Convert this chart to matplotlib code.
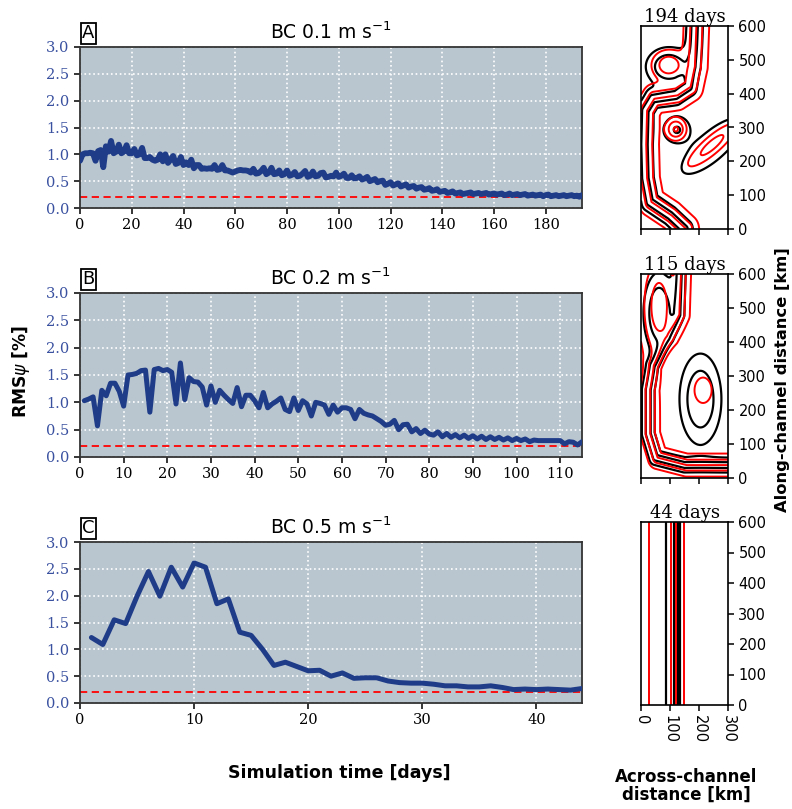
import numpy as np
import matplotlib
matplotlib.use("Agg")
import matplotlib.pyplot as plt

# ---------------- data: RMS time series ----------------
days_a = list(range(0, 195))
rms_a = [0.88, 1.0, 1.02, 1.02, 1.03, 1.02, 0.88, 1.06, 1.08, 0.76,
         1.15, 1.05, 1.25, 1.02, 1.05, 1.18, 1.02, 1.05, 1.17, 1.02,
         1.02, 1.1, 0.98, 1.0, 1.12, 0.93, 0.93, 0.95, 0.9, 0.88,
         0.9, 1.0, 0.87, 1.0, 0.84, 0.9, 0.97, 0.82, 0.84, 0.95,
         0.8, 0.85, 0.8, 0.9, 0.74, 0.8, 0.8, 0.73, 0.74, 0.73,
         0.74, 0.73, 0.8, 0.71, 0.72, 0.8, 0.7, 0.7, 0.68, 0.66,
         0.68, 0.7, 0.71, 0.7, 0.7, 0.69, 0.66, 0.73, 0.64, 0.65,
         0.69, 0.75, 0.63, 0.66, 0.75, 0.63, 0.64, 0.7, 0.61, 0.63,
         0.7, 0.6, 0.62, 0.67, 0.59, 0.6, 0.64, 0.69, 0.58, 0.6,
         0.68, 0.59, 0.6, 0.65, 0.66, 0.57, 0.58, 0.6, 0.59, 0.66,
         0.58, 0.6, 0.64, 0.56, 0.56, 0.61, 0.55, 0.56, 0.59, 0.53,
         0.55, 0.58, 0.5, 0.52, 0.54, 0.48, 0.5, 0.51, 0.43, 0.45,
         0.48, 0.42, 0.44, 0.46, 0.4, 0.42, 0.44, 0.38, 0.4, 0.41,
         0.36, 0.38, 0.39, 0.34, 0.35, 0.37, 0.32, 0.33, 0.35, 0.3,
         0.31, 0.32, 0.28, 0.29, 0.31, 0.27, 0.28, 0.29, 0.26, 0.27,
         0.28, 0.29, 0.26, 0.27, 0.28, 0.26, 0.27, 0.28, 0.25, 0.26,
         0.27, 0.25, 0.26, 0.27, 0.24, 0.25, 0.27, 0.24, 0.25, 0.26,
         0.24, 0.25, 0.26, 0.23, 0.24, 0.25, 0.23, 0.24, 0.25, 0.22,
         0.24, 0.25, 0.22, 0.23, 0.24, 0.22, 0.23, 0.24, 0.22, 0.23,
         0.24, 0.22, 0.23, 0.21, 0.24]

days_b = list(range(1, 116))
rms_b = [1.03, 1.06, 1.1, 0.57, 1.22, 1.12, 1.35, 1.35, 1.2, 0.93,
         1.5, 1.51, 1.53, 1.58, 1.59, 0.82, 1.6, 1.62, 1.58, 1.6,
         1.55, 0.97, 1.72, 1.05, 1.45, 1.38, 1.37, 1.28, 0.95, 1.3,
         1.0, 1.22, 1.13, 1.05, 0.98, 1.27, 0.92, 1.13, 1.13, 1.03,
         0.9, 1.18, 0.9, 0.97, 1.02, 1.08, 0.87, 0.83, 1.08, 0.85,
         1.03, 0.97, 0.75, 1.0, 0.98, 0.95, 0.78, 0.95, 0.82, 0.9,
         0.9, 0.87, 0.7, 0.87, 0.8, 0.77, 0.75, 0.7, 0.65, 0.58,
         0.6, 0.67, 0.5, 0.59, 0.6, 0.46, 0.52, 0.43, 0.49, 0.42,
         0.4, 0.46, 0.37, 0.43, 0.36, 0.41, 0.35, 0.4, 0.34, 0.39,
         0.33, 0.38, 0.32, 0.37, 0.32, 0.36, 0.31, 0.35, 0.3, 0.34,
         0.3, 0.33, 0.28, 0.31, 0.3, 0.3, 0.3, 0.3, 0.3, 0.3,
         0.24, 0.28, 0.27, 0.22, 0.28]

days_c = list(range(1, 45))
rms_c = [1.22, 1.09, 1.55, 1.48, 1.99, 2.45, 1.99, 2.53, 2.16, 2.61,
         2.53, 1.85, 1.94, 1.32, 1.26, 1.0, 0.70, 0.76, 0.68, 0.6,
         0.61, 0.5, 0.56, 0.46, 0.47, 0.47, 0.41, 0.38, 0.37, 0.37,
         0.35, 0.32, 0.32, 0.3, 0.3, 0.32, 0.29, 0.25, 0.26, 0.25,
         0.26, 0.25, 0.24, 0.27]

threshold = 0.2
titles = ["BC 0.1 m s$^{-1}$", "BC 0.2 m s$^{-1}$", "BC 0.5 m s$^{-1}$"]
panel_letters = ["A", "B", "C"]
xmax = [194, 115, 44]
xstep = [20, 10, 10]
snap_titles = ["194 days", "115 days", "44 days"]

# ---------------- data: streamfunction snapshots (features) ----------------
# jet axis control points (km): across, along
jet1_x = [185, 185, 180, 165, 120, 40, 15, 12, 15, 30, 100, 150, 170]
jet1_y = [700, 600, 480, 420, 395, 385, 350, 250, 150, 80, 40, 0, -100]
jet2_x = [132, 132, 128, 95, 40, 25, 25, 50, 150, 300, 400]
jet2_y = [700, 600, 480, 410, 330, 260, 130, 60, 38, 38, 38]
# eddies: centre x, centre y, amplitude, semi-axis a, semi-axis b, angle (deg)
ed1_cx = [95, 124, 245]
ed1_cy = [480, 293, 245]
ed1_amp = [0.55, -0.32, -0.3]
ed1_sa = [60, 42, 120]
ed1_sb = [44, 36, 42]
ed1_ang = [0, 0, 36]
ed2_cx = [62, 205]
ed2_cy = [485, 232]
ed2_amp = [0.6, -0.6]
ed2_sa = [40, 54]
ed2_sb = [89, 100]
ed2_ang = [0, 0]
# red (second field) eddies
red1_cx = [95, 120, 245]
red1_cy = [485, 295, 248]
red1_amp = [0.35, -0.55, -0.3]
red1_sa = [42, 24, 75]
red1_sb = [32, 22, 20]
red1_ang = [0, 0, 36]
red2_cx = [62, 214]
red2_cy = [505, 258]
red2_amp = [0.7, -0.18]
red2_sa = [45, 26]
red2_sb = [118, 33]
red2_ang = [0, 0]
# 44-day snapshot: straight contours (km)
c3_black = [87, 113, 127, 136]
c3_red = [29, 105, 120, 148]

W, H = 792, 809
fig = plt.figure(figsize=(W / 100, H / 100), dpi=100)


def add_ax(l, t, r, b):
    return fig.add_axes([l / W, 1 - b / H, (r - l) / W, (b - t) / H])


blue = "#1f3c88"
tick_blue = "#3a51a0"
bg = "#b9c6d0"

left_boxes = [(80, 47, 582, 208), (80, 293, 582, 457), (80, 542, 582, 703)]
series = [(days_a, rms_a), (days_b, rms_b), (days_c, rms_c)]
lws = [4.2, 3.6, 3.6]
for i, box in enumerate(left_boxes):
    ax = add_ax(*box)
    ax.set_facecolor(bg)
    d, v = series[i]
    ax.plot(d, v, color=blue, lw=lws[i], solid_joinstyle="round",
            solid_capstyle="round", zorder=3)
    ax.axhline(threshold, color="red", ls="--", lw=1.3, dashes=(4, 2.5), zorder=2)
    ax.set_xlim(0, xmax[i])
    ax.set_ylim(0, 3)
    ax.set_xticks(np.arange(0, xmax[i] + 1, xstep[i]))
    ax.set_yticks(np.arange(0, 3.01, 0.5))
    ax.set_yticklabels([f"{t:.1f}" for t in np.arange(0, 3.01, 0.5)])
    ax.grid(color="white", ls=":", lw=1.2)
    ax.set_axisbelow(True)
    ax.tick_params(length=4, width=1.1, labelsize=10.5,
                   labelfontfamily="DejaVu Serif")
    ax.tick_params(axis="y", labelcolor=tick_blue)
    for s in ax.spines.values():
        s.set_linewidth(1.3)
        s.set_color("#333333")
    ax.set_title(titles[i], fontsize=13.5, pad=6)
    ax.text(0.004, 1.03, panel_letters[i], transform=ax.transAxes, fontsize=13,
            ha="left", va="bottom",
            bbox=dict(facecolor="white", edgecolor="black", pad=1.0, lw=1.3))

# ---------------- contour fields ----------------
gx = np.linspace(0, 300, 151)
gy = np.linspace(0, 600, 301)
X, Y = np.meshgrid(gx, gy)


def signed_dist(px, py):
    px = np.asarray(px, float)
    py = np.asarray(py, float)
    best = np.full(X.shape, np.inf)
    sign = np.zeros(X.shape)
    for k in range(len(px) - 1):
        ax_, ay_ = px[k], py[k]
        dx, dy = px[k + 1] - ax_, py[k + 1] - ay_
        L2 = dx * dx + dy * dy
        t = np.clip(((X - ax_) * dx + (Y - ay_) * dy) / L2, 0, 1)
        qx, qy = ax_ + t * dx, ay_ + t * dy
        dist = np.hypot(X - qx, Y - qy)
        cr = dx * (Y - ay_) - dy * (X - ax_)
        m = dist < best
        best[m] = dist[m]
        sign[m] = np.where(cr[m] >= 0, 1.0, -1.0)
    return best * sign


def build(jx, jy, w, shift, cx, cy, amp, sa, sb, ang):
    sd = signed_dist(np.array(jx) + shift, jy)
    psi = 0.5 * (1 + np.tanh(sd / w))
    for k in range(len(cx)):
        th = np.deg2rad(ang[k])
        u = (X - cx[k]) * np.cos(th) + (Y - cy[k]) * np.sin(th)
        v = -(X - cx[k]) * np.sin(th) + (Y - cy[k]) * np.cos(th)
        psi = psi + amp[k] * np.exp(-(u / sa[k]) ** 2 - (v / sb[k]) ** 2)
    return psi


black_levels = [0.1, 0.3, 0.7, 0.9]
red_levels = [0.05, 0.2, 0.5, 0.8, 0.95]

fields = [
    (build(jet1_x, jet1_y, 26, 0, ed1_cx, ed1_cy, ed1_amp, ed1_sa, ed1_sb, ed1_ang),
     build(jet1_x, jet1_y, 30, 6, red1_cx, red1_cy, red1_amp, red1_sa, red1_sb, red1_ang)),
    (build(jet2_x, jet2_y, 20, 0, ed2_cx, ed2_cy, ed2_amp, ed2_sa, ed2_sb, ed2_ang),
     build(jet2_x, jet2_y, 23, 7, red2_cx, red2_cy, red2_amp, red2_sa, red2_sb, red2_ang)),
]

right_boxes = [(641, 26, 728, 229), (641, 274, 728, 478), (641, 522, 728, 705)]
for i, box in enumerate(right_boxes):
    ax = add_ax(*box)
    if i < 2:
        fb, fr = fields[i]
        ax.contour(X, Y, fb, levels=black_levels, colors="black", linewidths=1.6)
        ax.contour(X, Y, fr, levels=red_levels, colors="red", linewidths=1.4)
    else:
        for xb in c3_black:
            ax.axvline(xb, color="black", lw=1.6)
        for xr in c3_red:
            ax.axvline(xr, color="red", lw=1.4)
    ax.set_xlim(0, 300)
    ax.set_ylim(0, 600)
    ax.yaxis.tick_right()
    ax.set_yticks(range(0, 601, 100))
    ax.set_xticks([0, 100, 200, 300])
    if i < 2:
        ax.set_xticklabels([])
    else:
        ax.set_xticklabels(["0", "100", "200", "300"], rotation=270)
    ax.tick_params(labelsize=10.5, length=4, width=1.1)
    for s in ax.spines.values():
        s.set_linewidth(1.2)
    ax.set_title(snap_titles[i], fontsize=13, family="DejaVu Serif", pad=3)

fig.text(21 / W, 1 - 371 / H, r"RMS$\psi$ [%]", rotation=90, fontsize=12.3,
         fontweight="bold", ha="center", va="center")
fig.text(339 / W, 1 - 773 / H, "Simulation time [days]", fontsize=12.5,
         fontweight="bold", ha="center", va="center")
fig.text(783 / W, 1 - 380 / H, "Along-channel distance [km]", rotation=90, fontsize=11.8,
         fontweight="bold", ha="center", va="center")
fig.text(686 / W, 1 - 786 / H, "Across-channel\ndistance [km]", fontsize=12,
         fontweight="bold", ha="center", va="center", linespacing=1.0)

fig.savefig("out.png", dpi=100)
